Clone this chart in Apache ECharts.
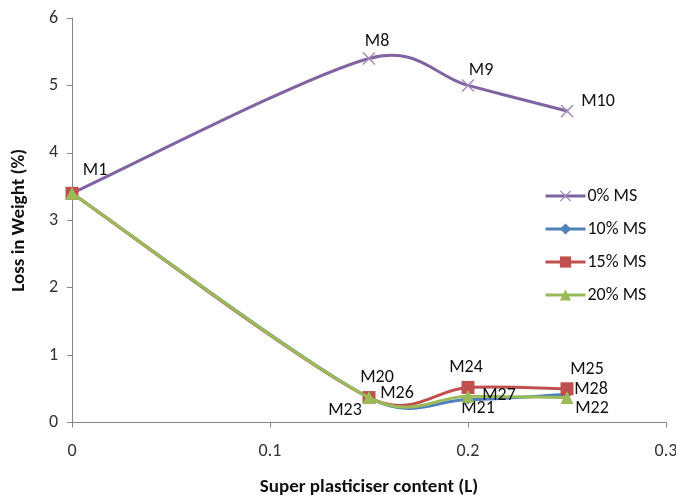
<!DOCTYPE html>
<html><head><meta charset="utf-8">
<script src="https://cdn.jsdelivr.net/npm/echarts@6/dist/echarts.min.js"></script>
<style>html,body{margin:0;padding:0;background:#fff}#c{width:676px;height:495px}</style>
</head><body><div id="c"></div>
<script>
const xValues = [0, 0.15, 0.2, 0.25];
const seriesNames = ['0% MS', '10% MS', '15% MS', '20% MS'];
const ms0 = [3.4, 5.4, 5.0, 4.62];
const ms10 = [3.4, 0.37, 0.34, 0.42];
const ms15 = [3.4, 0.37, 0.52, 0.5];
const ms20 = [3.4, 0.37, 0.39, 0.37];
const labels0 = ['M1', 'M8', 'M9', 'M10'];
const labels10 = ['', 'M20', 'M21', 'M22'];
const labels15 = ['', 'M23', 'M24', 'M25'];
const labels20 = ['', 'M26', 'M27', 'M28'];
const xTicks = [0, 0.1, 0.2, 0.3];
const yTicks = [0, 1, 2, 3, 4, 5, 6];

// label offsets (style only)
const off0 = [[23,-23],[8,-17],[13,-15],[31,-10]];
const off10 = [[0,0],[8,-20],[10,9],[25,14]];
const off15 = [[0,0],[-24,13],[-2,-20],[20,-19]];
const off20 = [[0,0],[28,-4],[31,-1],[24,-8]];

const FONT = 'Carlito, Lato, "Liberation Sans", sans-serif';
const crossPath = 'path://M0,0.8 L0.8,0 L5,4.2 L9.2,0 L10,0.8 L5.8,5 L10,9.2 L9.2,10 L5,5.8 L0.8,10 L0,9.2 L4.2,5 Z';

const allValues = [ms0, ms10, ms15, ms20];
const allLabels = [labels0, labels10, labels15, labels20];
const allOffsets = [off0, off10, off15, off20];
const colors = ['#8064A2', '#4F81BD', '#C0504D', '#9BBB59'];
const symbols = [crossPath, 'diamond', 'rect', 'triangle'];
const sizes = [13, 10, 13, 13];

function build(vals, labs, offs) {
  return vals.map((v, i) => ({
    value: [xValues[i], v],
    label: {
      show: labs[i] !== '',
      formatter: labs[i],
      position: 'inside',
      offset: offs[i],
      color: '#111',
      fontSize: 18,
      fontFamily: FONT
    }
  }));
}

// Excel-style smoothed segment drawn through the axis scales (api.coord)
function smoothRenderer(vals, color) {
  return function (params, api) {
    const i = params.dataIndex;
    const n = vals.length;
    if (i >= n - 1) return null;
    const P = vals.map((v, j) => api.coord([xValues[j], v]));
    const p0 = P[Math.max(i - 1, 0)], p1 = P[i], p2 = P[i + 1], p3 = P[Math.min(i + 2, n - 1)];
    const seg = Math.hypot(p2[0] - p1[0], p2[1] - p1[1]);
    function clampVec(v) {
      const len = Math.hypot(v[0], v[1]);
      const lim = 0.5 * seg;
      if (len > lim && len > 0) { const s = lim / len; return [v[0] * s, v[1] * s]; }
      return v;
    }
    const d1 = clampVec([(p2[0] - p0[0]) / 6, (p2[1] - p0[1]) / 6]);
    const d2 = clampVec([(p3[0] - p1[0]) / 6, (p3[1] - p1[1]) / 6]);
    return {
      type: 'bezierCurve',
      shape: {
        x1: p1[0], y1: p1[1], x2: p2[0], y2: p2[1],
        cpx1: p1[0] + d1[0], cpy1: p1[1] + d1[1],
        cpx2: p2[0] - d2[0], cpy2: p2[1] - d2[1]
      },
      style: {stroke: color, lineWidth: 3, fill: null, lineCap: 'round', lineJoin: 'round'}
    };
  };
}

const series = [];
seriesNames.forEach((n, k) => {
  series.push({
    name: n,
    type: 'line',
    data: build(allValues[k], allLabels[k], allOffsets[k]),
    symbol: symbols[k],
    symbolSize: sizes[k],
    showAllSymbol: true,
    color: colors[k],
    lineStyle: {width: 0, opacity: 0, color: colors[k]},
    itemStyle: {color: k === 0 ? '#A08CC0' : colors[k]},
    z: 3 + 2 * k
  });
});
seriesNames.forEach((n, k) => {
  series.push({
    name: n,
    type: 'custom',
    renderItem: smoothRenderer(allValues[k], colors[k]),
    data: allValues[k].map((v, i) => [xValues[i], v]),
    encode: {x: 0, y: 1},
    color: colors[k],
    z: 2 + 2 * k,
    silent: true
  });
});

const chart = echarts.init(document.getElementById('c'), null, {renderer: 'canvas'});
chart.setOption({
  animation: false,
  backgroundColor: '#fff',
  textStyle: {fontFamily: FONT},
  grid: {left: 72, top: 18, right: 10, bottom: 72.5, containLabel: false, outerBoundsMode: 'none'},
  legend: {
    orient: 'vertical',
    left: 539,
    top: 182,
    itemWidth: 40,
    itemHeight: 14,
    itemGap: 15,
    data: seriesNames.map((n, k) => ({
      name: n,
      lineStyle: {width: 3, opacity: 1, color: colors[k]},
      itemStyle: {color: k === 0 ? '#A08CC0' : colors[k]}
    })),
    textStyle: {fontSize: 18, color: '#111', fontFamily: FONT, padding: [0,0,0,-3]}
  },
  xAxis: {
    type: 'value',
    min: xTicks[0],
    max: xTicks[xTicks.length - 1],
    interval: 0.1,
    name: 'Super plasticiser content (L)',
    nameLocation: 'middle',
    nameGap: 55,
    nameTextStyle: {fontSize: 19, fontWeight: 'bold', color: '#111', fontFamily: FONT},
    axisLine: {lineStyle: {color: '#868686', width: 1}},
    axisTick: {show: true, inside: false, length: 5, lineStyle: {color: '#868686'}},
    axisLabel: {margin: 20, fontSize: 18, color: '#333', fontFamily: FONT, formatter: v => String(v)},
    splitLine: {show: false}
  },
  yAxis: {
    type: 'value',
    min: yTicks[0],
    max: yTicks[yTicks.length - 1],
    interval: 1,
    name: 'Loss in Weight (%)',
    nameLocation: 'middle',
    nameGap: 43,
    nameTextStyle: {fontSize: 19, fontWeight: 'bold', color: '#111', fontFamily: FONT},
    axisLine: {show: true, lineStyle: {color: '#868686', width: 1}},
    axisTick: {show: true, inside: false, length: 5, lineStyle: {color: '#868686'}},
    axisLabel: {margin: 14, fontSize: 18, color: '#333', fontFamily: FONT},
    splitLine: {show: false}
  },
  series: series
});
</script></body></html>
